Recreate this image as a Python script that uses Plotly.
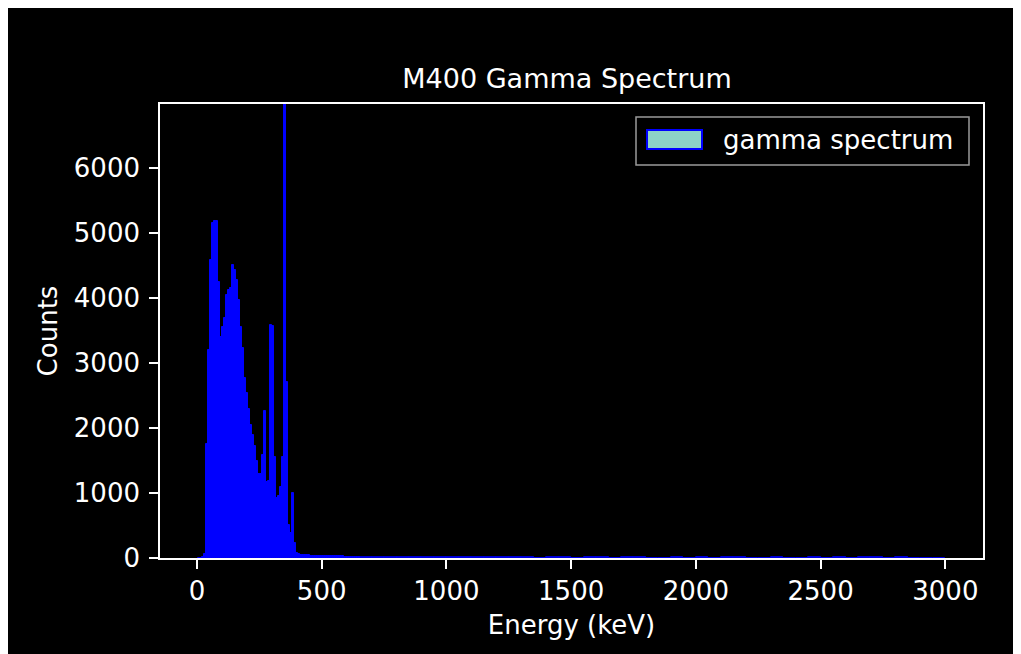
import plotly.graph_objects as go

# ---- data ----
energy_keV = [8, 16, 24, 32, 40, 48, 56, 64, 72, 80, 88, 96, 104, 112, 120, 128, 136,
              144, 152, 160, 168, 176, 184, 192, 200, 208, 216, 224, 232, 240, 248,
              256, 264, 272, 280, 288, 296, 304, 312, 320, 328, 336, 344, 352, 360,
              368, 376, 384, 392, 400, 408, 416, 424, 432, 440, 448, 456, 464, 472,
              480, 488, 496, 504, 512, 520, 528, 536, 544, 552, 560, 568, 576, 584,
              592, 600, 608, 616, 624, 632, 640, 648]
counts = [0, 5, 15, 60, 1750, 3200, 4585, 5160, 5185, 5190, 4250, 3405, 3560, 3690,
          4045, 4120, 4160, 4510, 4430, 4280, 3970, 3550, 3230, 2770, 2540, 2290,
          2046, 1892, 1730, 1500, 1295, 1300, 1585, 2260, 1174, 1190, 3585, 3570,
          1559, 918, 960, 1097, 1560, 7200, 2712, 508, 380, 1000, 230, 77, 58, 48,
          44, 42, 40, 40, 38, 38, 36, 35, 33, 30, 30, 28, 28, 27, 26, 26, 25, 25,
          25, 24, 24, 23, 22, 22, 20, 18, 15, 14, 12]

tail_energy_keV = [675, 725, 775, 825, 875, 925, 975, 1025, 1075, 1125, 1175, 1225,
                   1275, 1325, 1375, 1425, 1475, 1525, 1575, 1625, 1675, 1725, 1775,
                   1825, 1875, 1925, 1975, 2025, 2075, 2125, 2175, 2225, 2275, 2325,
                   2375, 2425, 2475, 2525, 2575, 2625, 2675, 2725, 2775, 2825, 2875,
                   2925, 2975]
tail_counts = [12, 11, 11, 10, 10, 10, 10, 9, 9, 9, 9, 9, 8, 8, 4, 8, 8, 4, 8, 8, 4, 8,
               8, 4, 4, 8, 4, 8, 4, 8, 8, 4, 4, 8, 4, 4, 8, 4, 8, 4, 8, 8, 4, 8, 4,
               3, 3]

x_ticks = [0, 500, 1000, 1500, 2000, 2500, 3000]
y_ticks = [0, 1000, 2000, 3000, 4000, 5000, 6000]

title_text = "M400 Gamma Spectrum"
x_label = "Energy (keV)"
y_label = "Counts"
legend_label = "gamma spectrum"

FONT = "DejaVu Sans"
FS = 26

fig = go.Figure()
fig.add_trace(go.Bar(x=energy_keV, y=counts, width=8,
                     marker=dict(color="#0000ff", line=dict(color="#0000ff", width=1)),
                     showlegend=False, hoverinfo="x+y"))
fig.add_trace(go.Bar(x=tail_energy_keV, y=tail_counts, width=50,
                     marker=dict(color="#0000ff", line=dict(color="#0000ff", width=0.8)),
                     showlegend=False, hoverinfo="x+y"))

W, H = 1021, 654
OFF = 8  # page body margin
# plot-area edges in page pixels (as seen in the screenshot)
L, R, T, B = 160, 983, 104, 558

def px(x):
    return (x - L) / (R - L)

def py(y):
    return (B - y) / (B - T)

axis_common = dict(showgrid=False, zeroline=False, showline=True, linecolor="white",
                   linewidth=1.6, mirror=True, ticks="outside", ticklen=9,
                   tickwidth=1.5, tickcolor="white",
                   tickfont=dict(family=FONT, size=FS, color="white"))

fig.update_layout(
    width=W, height=H,
    paper_bgcolor="black", plot_bgcolor="black",
    margin=dict(l=L - OFF, r=W + OFF - R, t=T - OFF, b=H + OFF - B, pad=0),
    bargap=0, barmode="overlay",
    font=dict(family=FONT, size=FS, color="white"),
    title=dict(text=title_text, x=(567 - OFF) / W, xanchor="center",
               y=1 - (79 - OFF) / H, yanchor="middle", yref="container", xref="container",
               font=dict(family=FONT, size=27, color="white")),
    xaxis=dict(range=[-148, 3151], tickvals=x_ticks, ticktext=[str(v) for v in x_ticks],
               title=dict(text=x_label, standoff=11,
                          font=dict(family=FONT, size=FS, color="white")),
               **axis_common),
    yaxis=dict(range=[0, 6985], tickvals=y_ticks, ticktext=[str(v) for v in y_ticks],
               title=dict(text=y_label, standoff=9,
                          font=dict(family=FONT, size=FS, color="white")),
               ticklabelstandoff=4,
               **axis_common),
)

# custom legend (matplotlib-style patch: teal face with blue edge)
fig.add_shape(type="rect", xref="paper", yref="paper",
              x0=px(636), x1=px(969), y0=py(165), y1=py(117),
              line=dict(color="#9a9a9a", width=1.5), fillcolor="black", layer="above")
fig.add_shape(type="rect", xref="paper", yref="paper",
              x0=px(647), x1=px(702), y0=py(149), y1=py(130),
              line=dict(color="#0000ff", width=2), fillcolor="#8dd3c7", layer="above")
fig.add_annotation(text=legend_label, xref="paper", yref="paper",
                   x=px(721), y=py(140), xanchor="left", yanchor="middle",
                   showarrow=False, font=dict(family=FONT, size=FS, color="white"))

fig.write_html("out.html")
